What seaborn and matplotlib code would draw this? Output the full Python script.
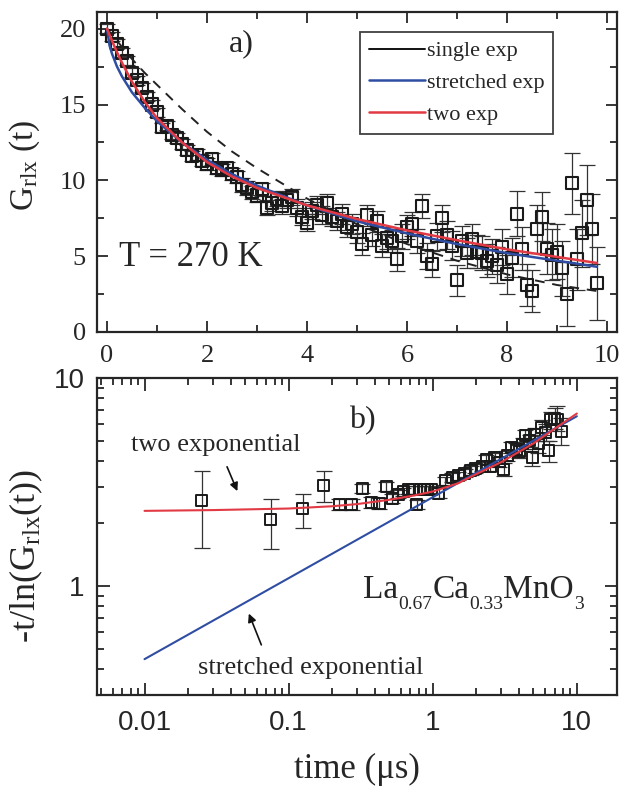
import numpy as np
import pandas as pd
import matplotlib
matplotlib.use("Agg")
import matplotlib.pyplot as plt
from matplotlib.lines import Line2D
from matplotlib.ticker import FixedLocator, NullFormatter, LogLocator, MultipleLocator
import seaborn as sns

# ---------------- data: panel a ----------------
time_a = [0.0, 0.1, 0.2, 0.3, 0.4, 0.5, 0.6, 0.7, 0.8, 0.9,
          1.0, 1.1, 1.2, 1.3, 1.4, 1.5, 1.6, 1.7, 1.8, 1.9,
          2.0, 2.1, 2.2, 2.3, 2.4, 2.5, 2.6, 2.7, 2.8, 2.9,
          3.0, 3.1, 3.2, 3.3, 3.4, 3.5, 3.6, 3.7, 3.8, 3.9,
          4.0, 4.1, 4.2, 4.3, 4.4, 4.5, 4.6, 4.7, 4.8, 4.9,
          5.0, 5.1, 5.2, 5.3, 5.4, 5.5, 5.6, 5.7, 5.8, 5.9,
          6.0, 6.1, 6.2, 6.3, 6.4, 6.5, 6.6, 6.7, 6.8, 6.9,
          7.0, 7.1, 7.2, 7.3, 7.4, 7.5, 7.6, 7.7, 7.8, 7.9,
          8.0, 8.1, 8.2, 8.3, 8.4, 8.5, 8.6, 8.7, 8.8, 8.9,
          9.0, 9.1, 9.2, 9.3, 9.4, 9.5, 9.6, 9.7, 9.8]
g_a = [20.0, 19.5, 19.0, 18.4, 17.9, 17.1, 16.6, 16.1, 15.5, 15.0,
       14.5, 13.5, 13.6, 13.0, 12.8, 12.4, 12.0, 11.6, 11.7, 11.3,
       11.1, 11.4, 10.8, 10.7, 10.8, 10.4, 10.2, 9.7, 9.5, 9.2,
       9.0, 9.4, 8.2, 8.5, 8.8, 8.3, 8.7, 8.9, 8.2, 7.6,
       7.2, 8.0, 8.4, 7.7, 8.5, 7.6, 7.3, 7.8, 6.9, 7.1,
       6.6, 5.8, 7.7, 6.4, 7.3, 5.7, 6.2, 6.0, 4.8, 6.3,
       6.9, 7.1, 6.0, 8.3, 5.0, 4.5, 6.3, 7.5, 6.4, 5.7,
       3.4, 6.0, 5.2, 6.1, 5.3, 5.2, 4.7, 5.0, 4.4, 5.6,
       3.8, 4.9, 7.8, 5.5, 3.1, 2.7, 6.8, 7.6, 5.5, 5.1,
       5.3, 4.2, 2.5, 9.8, 4.8, 6.5, 8.7, 6.8, 3.2]
err_a = [0.3, 0.3, 0.3, 0.3, 0.3, 0.3, 0.3, 0.3, 0.3, 0.3,
         0.3, 0.3, 0.3, 0.3, 0.35, 0.35, 0.35, 0.35, 0.35, 0.35,
         0.4, 0.4, 0.4, 0.4, 0.4, 0.4, 0.4, 0.45, 0.45, 0.45,
         0.45, 0.45, 0.5, 0.5, 0.5, 0.5, 0.5, 0.5, 0.55, 0.55,
         0.55, 0.55, 0.6, 0.6, 0.6, 0.6, 0.6, 0.65, 0.65, 0.65,
         0.7, 0.7, 0.7, 0.7, 0.7, 0.75, 0.75, 0.75, 0.75, 0.8,
         0.8, 0.8, 0.8, 0.8, 0.85, 0.85, 0.9, 0.9, 0.9, 0.95,
         1.0, 1.0, 1.0, 1.05, 1.1, 1.1, 1.1, 1.15, 1.2, 1.2,
         1.3, 1.3, 1.5, 1.4, 1.4, 1.4, 1.6, 1.6, 1.7, 1.7,
         1.8, 1.8, 2.1, 2.0, 2.0, 2.2, 2.3, 2.3, 2.4]

# fit curves, panel a
fit_t = [0.0, 0.05, 0.1, 0.2, 0.3, 0.5, 0.75, 1.0, 1.5, 2.0, 2.5, 3.0,
         4.0, 5.0, 6.0, 7.0, 8.0, 9.0, 9.8]
single_exp = [20.0, 19.8, 19.6, 19.2, 18.8, 18.0, 17.1, 16.3, 14.7, 13.2,
              11.9, 10.8, 8.8, 7.1, 5.8, 4.7, 3.8, 3.1, 2.7]
stretched_exp = [20.0, 18.9, 18.35, 17.5, 16.85, 15.8, 14.8, 13.9, 12.5, 11.35,
                 10.4, 9.65, 8.35, 7.3, 6.5, 5.8, 5.2, 4.7, 4.3]
two_exp = [20.0, 19.6, 19.2, 18.45, 17.75, 16.5, 15.2, 14.1, 12.5, 11.2,
           10.25, 9.5, 8.35, 7.45, 6.7, 6.05, 5.45, 4.95, 4.55]

# ---------------- data: panel b ----------------
time_b = [0.025, 0.075, 0.125, 0.175, 0.225, 0.275, 0.325, 0.375, 0.425, 0.475,
          0.525, 0.575, 0.625, 0.675, 0.725, 0.775, 0.825, 0.875, 0.925, 0.975,
          1.1, 1.22, 1.37, 1.5, 1.67, 1.83, 1.98, 2.2, 2.35, 2.5,
          2.7, 2.9, 3.1, 3.3, 3.5, 3.8, 4.0, 4.2, 4.4, 4.7,
          4.9, 5.1, 5.4, 5.7, 6.1, 6.4, 6.6, 7.0, 7.3, 7.8]
ratio_b = [2.57, 2.08, 2.36, 3.05, 2.48, 2.48, 2.95, 2.52, 2.50, 3.02,
           2.64, 2.77, 2.84, 2.90, 2.90, 2.48, 2.90, 2.90, 2.92, 2.90,
           2.80, 3.21, 3.33, 3.39, 3.49, 3.59, 3.68, 3.76, 4.08, 3.76,
           4.16, 3.95, 3.65, 4.23, 4.64, 4.55, 4.45, 4.82, 5.28, 5.00,
           4.16, 5.38, 4.82, 5.81, 5.48, 4.47, 6.30, 6.40, 6.35, 5.55]
err_lo_b = [1.05, 0.57, 0.46, 0.50, 0.15, 0.15, 0.15, 0.15, 0.15, 0.15,
            0.12, 0.12, 0.12, 0.12, 0.12, 0.12, 0.12, 0.12, 0.12, 0.12,
            0.15, 0.15, 0.15, 0.15, 0.15, 0.18, 0.18, 0.2, 0.2, 0.2,
            0.22, 0.22, 0.25, 0.25, 0.3, 0.3, 0.3, 0.35, 0.35, 0.35,
            0.4, 0.4, 0.45, 0.5, 0.5, 0.5, 0.6, 0.7, 0.8, 0.8]
err_hi_b = [1.01, 0.54, 0.41, 0.53, 0.15, 0.15, 0.15, 0.15, 0.15, 0.15,
            0.12, 0.12, 0.12, 0.12, 0.12, 0.12, 0.12, 0.12, 0.12, 0.12,
            0.15, 0.15, 0.15, 0.15, 0.15, 0.18, 0.18, 0.2, 0.2, 0.2,
            0.22, 0.22, 0.25, 0.25, 0.3, 0.3, 0.3, 0.35, 0.35, 0.35,
            0.4, 0.4, 0.45, 0.5, 0.5, 0.5, 0.6, 0.8, 1.0, 0.9]

fitb_t = [0.01, 0.03, 0.1, 0.2, 0.3, 0.5, 0.75, 1.0, 1.5, 2.0, 3.0, 5.0, 7.0, 10.0]
fitb_two = [2.30, 2.32, 2.36, 2.42, 2.48, 2.60, 2.73, 2.85, 3.12, 3.45, 3.95, 4.85, 5.70, 6.75]
fitb_str_t = [0.01, 10.0]
fitb_str = [0.446, 6.55]

RED = "#e23a44"
BLUE = "#2f4ea3"

sns.set_theme(style="ticks")
plt.rcParams["font.family"] = ["Liberation Serif", "DejaVu Serif"]
plt.rcParams["mathtext.fontset"] = "custom"
plt.rcParams["mathtext.rm"] = "Liberation Serif"
plt.rcParams["mathtext.it"] = "Liberation Serif:italic"
plt.rcParams["axes.linewidth"] = 1.6
plt.rcParams["xtick.direction"] = "in"
plt.rcParams["ytick.direction"] = "in"

fig = plt.figure(figsize=(6.21, 7.86), dpi=100)
axA = fig.add_axes([97 / 621, 1 - 332 / 786, 520 / 621, 320 / 786])
axB = fig.add_axes([97 / 621, 1 - 695 / 786, 520 / 621, 317 / 786])

# ---------------- panel a ----------------
dfa = pd.DataFrame({"t": time_a, "g": g_a, "e": err_a})
axA.errorbar(dfa["t"], dfa["g"], yerr=dfa["e"], fmt="none", ecolor="#333333",
             elinewidth=0.9, capsize=6, capthick=0.9, zorder=2)
sns.scatterplot(data=dfa, x="t", y="g", marker="s", s=75, facecolor="none",
                edgecolor="#1a1a1a", linewidth=1.5, ax=axA, zorder=3, legend=False)
dff = pd.DataFrame({"t": fit_t, "single": single_exp, "stretched": stretched_exp, "two": two_exp})
sns.lineplot(data=dff, x="t", y="single", color="#222222", lw=1.4, ax=axA,
             linestyle=(0, (5, 4)), zorder=4)
sns.lineplot(data=dff, x="t", y="stretched", color=BLUE, lw=1.8, ax=axA, zorder=5)
sns.lineplot(data=dff, x="t", y="two", color=RED, lw=1.8, ax=axA, zorder=6)

axA.set_xlim(-0.2, 10.2)
axA.set_ylim(0, 21.1)
axA.xaxis.set_major_locator(FixedLocator([0, 2, 4, 6, 8, 10]))
axA.xaxis.set_minor_locator(MultipleLocator(1))
axA.yaxis.set_major_locator(FixedLocator([0, 5, 10, 15, 20]))
axA.yaxis.set_minor_locator(MultipleLocator(2.5))
axA.tick_params(which="both", top=True, right=True, labelsize=19, width=1.3)
axA.tick_params(which="major", length=8)
axA.tick_params(which="minor", length=5)
axA.tick_params(axis="x", pad=9)
axA.tick_params(axis="y", pad=8)
axA.set_xlabel("")
axA.set_ylabel(r"$\mathregular{G_{rlx}}$ (t)", fontsize=24)
axA.yaxis.set_label_coords(-0.105, 0.52)
axA.text(0.277, 0.9, "a)", transform=axA.transAxes, fontsize=23, ha="center", va="center")
axA.text(0.042, 0.234, "T = 270 K", transform=axA.transAxes, fontsize=25, ha="left", va="center")

handles = [Line2D([], [], color="#111111", lw=1.4),
           Line2D([], [], color=BLUE, lw=1.8),
           Line2D([], [], color=RED, lw=1.8)]
leg = axA.legend(handles, ["single exp", "stretched exp", "two exp"],
                 loc="upper left", bbox_to_anchor=(0.506, 0.9375), fontsize=16,
                 frameon=True, fancybox=False, edgecolor="#111111",
                 handlelength=2.5, handletextpad=0.1, borderpad=0.4,
                 labelspacing=0.5, borderaxespad=0)
leg.get_frame().set_linewidth(1.3)

# ---------------- panel b ----------------
dfb = pd.DataFrame({"t": time_b, "r": ratio_b})
axB.errorbar(dfb["t"], dfb["r"], yerr=[err_lo_b, err_hi_b], fmt="none",
             ecolor="#333333", elinewidth=0.9, capsize=6, capthick=0.9, zorder=2)
sns.scatterplot(data=dfb, x="t", y="r", marker="s", s=62, facecolor="none",
                edgecolor="#1a1a1a", linewidth=1.4, ax=axB, zorder=3, legend=False)
sns.lineplot(x=fitb_str_t, y=fitb_str, color=BLUE, lw=1.5, ax=axB, zorder=4)
sns.lineplot(x=fitb_t, y=fitb_two, color=RED, lw=1.5, ax=axB, zorder=5)

axB.set_xscale("log")
axB.set_yscale("log")
axB.set_xlim(0.00468, 19.0)
axB.set_ylim(0.30, 10.0)
axB.xaxis.set_major_locator(FixedLocator([0.01, 0.1, 1, 10]))
axB.xaxis.set_minor_locator(LogLocator(base=10, subs=np.arange(2, 10), numticks=20))
axB.xaxis.set_minor_formatter(NullFormatter())
axB.set_xticklabels(["0.01", "0.1", "1", "10"], family=["Liberation Sans", "DejaVu Sans"])
axB.yaxis.set_major_locator(FixedLocator([1, 10]))
axB.yaxis.set_minor_locator(LogLocator(base=10, subs=np.arange(2, 10), numticks=20))
axB.yaxis.set_minor_formatter(NullFormatter())
axB.set_yticklabels(["1", "10"], family=["Liberation Sans", "DejaVu Sans"])
axB.tick_params(which="both", top=True, right=True, labelsize=20, width=1.3)
axB.tick_params(which="major", length=9)
axB.tick_params(which="minor", length=5)
axB.tick_params(axis="x", pad=11)
axB.tick_params(axis="y", pad=9)
axB.set_xlabel("time (μs)", fontsize=25, labelpad=12)
axB.set_ylabel(r"-t/ln($\mathregular{G_{rlx}}$(t))", fontsize=26)
axB.yaxis.set_label_coords(-0.1, 0.44)

axB.text(0.51, 0.867, "b)", transform=axB.transAxes, fontsize=23, ha="center", va="center")
axB.text(0.065, 0.79, "two exponential", transform=axB.transAxes, fontsize=19,
         ha="left", va="center")
axB.text(0.195, 0.085, "stretched exponential", transform=axB.transAxes, fontsize=19,
         ha="left", va="center")
axB.annotate("", xy=(0.272, 0.635), xytext=(0.248, 0.728), xycoords="axes fraction",
             arrowprops=dict(arrowstyle="-|>", color="#111111", lw=1.2, mutation_scale=12))
axB.annotate("", xy=(0.29, 0.265), xytext=(0.318, 0.15), xycoords="axes fraction",
             arrowprops=dict(arrowstyle="-|>", color="#111111", lw=1.2, mutation_scale=12))

# La0.67Ca0.33MnO3, built from main text and smaller subscripts
pieces = [("La", False), ("0.67", True), ("Ca", False), ("0.33", True), ("MnO", False), ("3", True)]
y_base = 0.307
prev = None
for txt, is_sub in pieces:
    fs = 14 if is_sub else 24
    dy = -8.5 if is_sub else 0
    if prev is None:
        prev = axB.annotate(txt, xy=(0.512, y_base), xycoords="axes fraction",
                            xytext=(0, dy), textcoords="offset points",
                            fontsize=fs, ha="left", va="baseline")
    else:
        prev = axB.annotate(txt, xy=(1.0, y_base), xycoords=(prev, axB.transAxes),
                            xytext=(0, dy), textcoords="offset points",
                            fontsize=fs, ha="left", va="baseline")

fig.savefig("out.png", dpi=100)
